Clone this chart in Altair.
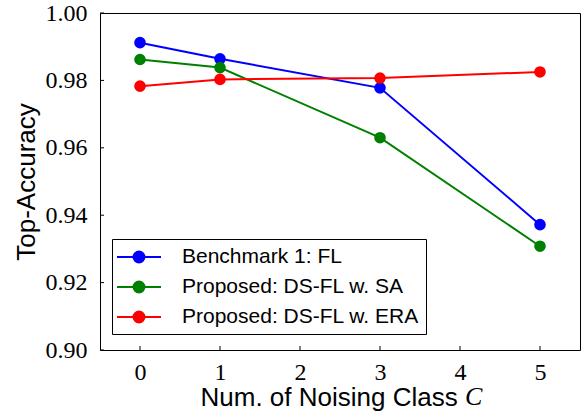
import altair as alt
import pandas as pd

# ---- data ----
noising_class = [0, 1, 3, 5]
benchmark_fl = [0.9912, 0.9864, 0.9778, 0.9372]
proposed_sa = [0.9862, 0.9838, 0.9630, 0.9308]
proposed_era = [0.9783, 0.9803, 0.9807, 0.9825]

series_names = ["Benchmark 1: FL", "Proposed: DS-FL w. SA", "Proposed: DS-FL w. ERA"]
series_colors = ["#0000ff", "#008000", "#ff0000"]
x_ticks = [0, 1, 2, 3, 4, 5]
y_ticks = [0.90, 0.92, 0.94, 0.96, 0.98, 1.00]

rows = []
for k, (name, vals) in enumerate(zip(series_names, [benchmark_fl, proposed_sa, proposed_era])):
    for c, v in zip(noising_class, vals):
        rows.append({"C": c, "acc": v, "series": name, "k": k})
df = pd.DataFrame(rows)

W, H = 480, 337
xscale = alt.Scale(domain=[-0.5, 5.5], nice=False, zero=False)
yscale = alt.Scale(domain=[0.90, 1.00], nice=False, zero=False)

xaxis = alt.Axis(values=x_ticks, format="d", labelFont="Liberation Serif", labelFontSize=24,
                 labelColor="black", labelPadding=10, ticks=False, domain=False, grid=False,
                 title="Num. of Noising Class", titleFont="Liberation Sans", titleFontSize=26,
                 titleFontWeight="normal", titleColor="black", titleAlign="left",
                 titleBaseline="alphabetic", titleX=100, titleY=55)
yaxis = alt.Axis(values=y_ticks, format=".2f", labelFont="Liberation Serif", labelFontSize=24,
                 labelColor="black", labelPadding=13, ticks=False, domain=False, grid=False,
                 title="Top-Accuracy", titleFont="Liberation Sans", titleFontSize=26,
                 titleFontWeight="normal", titleColor="black", titleAngle=270,
                 titleAlign="center", titleBaseline="alphabetic", titleX=-66, titleY=H / 2)

legend_path = "M-2.2,0L2.2,0M-0.55,0A0.55,0.55,0,1,0,0.55,0A0.55,0.55,0,1,0,-0.55,0Z"
color = alt.Color(
    "series:N",
    scale=alt.Scale(domain=series_names, range=series_colors),
    sort=series_names,
    legend=alt.Legend(title=None, orient="none", legendX=12, legendY=226,
                      symbolType=legend_path, symbolSize=400, symbolStrokeWidth=2,
                      labelFont="Liberation Sans", labelFontSize=21, labelColor="black",
                      padding=7, rowPadding=9, strokeColor="black", fillColor="white",
                      cornerRadius=0, symbolOffset=9, labelOffset=32, labelLimit=400),
)

lines = alt.Chart(df).mark_line(
    strokeWidth=2, point=alt.OverlayMarkDef(filled=True, size=135, opacity=1)
).encode(
    x=alt.X("C:Q", scale=xscale, axis=xaxis),
    y=alt.Y("acc:Q", scale=yscale, axis=yaxis),
    color=color,
)

xt = alt.Chart(pd.DataFrame({"t": x_ticks})).mark_rule(color="black", strokeWidth=1).encode(
    x=alt.X("t:Q", scale=xscale, axis=xaxis), y=alt.value(H), y2=alt.value(H - 4))
yt = alt.Chart(pd.DataFrame({"v": y_ticks})).mark_rule(color="black", strokeWidth=1).encode(
    y=alt.Y("v:Q", scale=yscale, axis=yaxis), x=alt.value(0), x2=alt.value(4))

ctext = alt.Chart(pd.DataFrame({"s": ["C"]})).mark_text(
    font="Liberation Serif", fontStyle="italic", fontSize=26, align="left",
    baseline="alphabetic", color="black"
).encode(text="s:N", x=alt.value(365), y=alt.value(392))

chart = alt.layer(lines, xt, yt, ctext).properties(
    width=W, height=H,
    padding={"left": 100, "top": 13, "right": 6, "bottom": 67},
    autosize="none",
).configure_view(stroke="black", strokeWidth=1)

chart.save("out.html", embed_options={"renderer": "svg", "actions": False})
